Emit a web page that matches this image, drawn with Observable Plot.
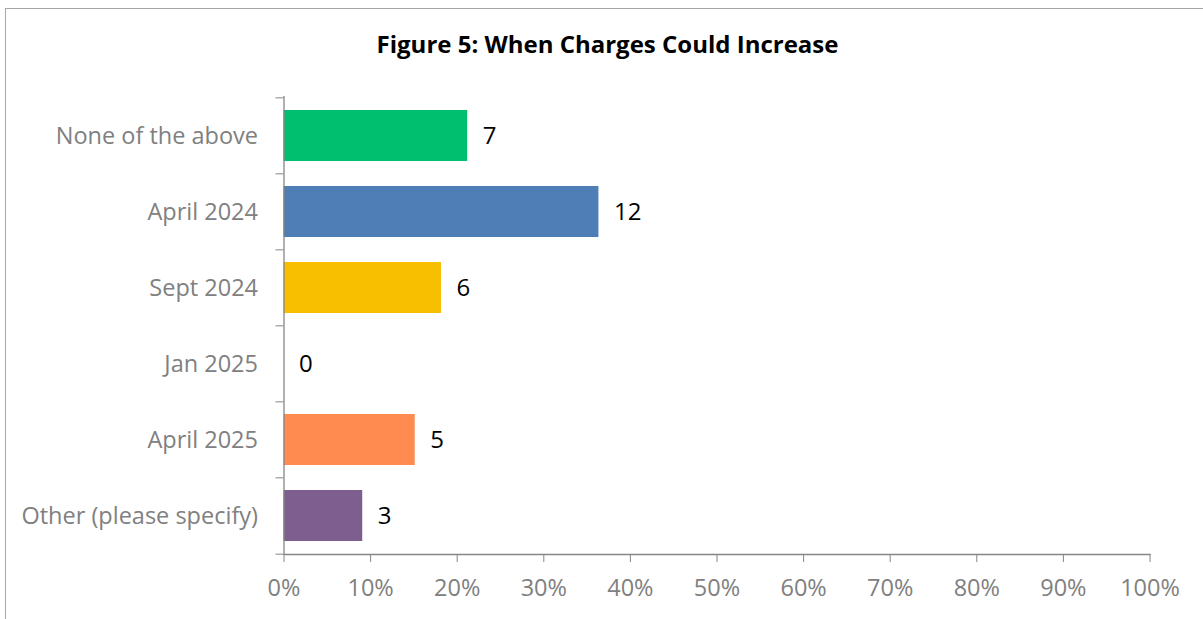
<!DOCTYPE html>
<html>
<head>
<meta charset="utf-8">
<script src="https://cdn.jsdelivr.net/npm/d3@7"></script>
<script src="https://cdn.jsdelivr.net/npm/@observablehq/plot@0.6"></script>
<style>
  html, body { margin: 0; padding: 0; background: #fff; }
  #wrap { position: relative; width: 1203px; height: 619px; overflow: hidden; font-family: "Open Sans", Lato, sans-serif; }
  #border { position: absolute; left: 5px; top: 8px; width: 1400px; height: 800px; border: 1px solid #a6a6a6; box-sizing: border-box; }
  #title { position: absolute; left: 0; top: 27px; width: 1215px; text-align: center; font-weight: bold; font-size: 24px; line-height: normal; color: #000; }
  #chart { position: absolute; left: 0; top: 0; }
</style>
</head>
<body>
<div id="wrap">
  <div id="border"></div>
  <div id="title">Figure 5: When Charges Could Increase</div>
  <div id="chart"></div>
</div>
<script>
const categories = ["None of the above", "April 2024", "Sept 2024", "Jan 2025", "April 2025", "Other (please specify)"];
const counts = [7, 12, 6, 0, 5, 3];
const colors = ["#00BF6F", "#4F7DB5", "#F8BE00", "#FFFFFF", "#FF8B50", "#7E5E8F"];
const xTicks = [0, 0.1, 0.2, 0.3, 0.4, 0.5, 0.6, 0.7, 0.8, 0.9, 1.0];

const total = d3.sum(counts);
const data = categories.map((c, i) => ({category: c, count: counts[i], pct: counts[i] / total, color: colors[i]}));

const W = 1203, H = 619, mT = 96, mB = 65, mL = 283.5, mR = 53.5;
const step = (H - mT - mB) / categories.length;
const gray = "#808080";

const plot = Plot.plot({
  width: W,
  height: H,
  marginTop: mT,
  marginBottom: mB,
  marginLeft: mL,
  marginRight: mR,
  style: {fontFamily: "'Open Sans', Lato, sans-serif", fontSize: "23.5px", color: gray, background: "transparent"},
  x: {domain: [0, 1], axis: null, label: null},
  y: {domain: categories, paddingInner: 0.33, paddingOuter: 0.165, axis: null, label: null},
  marks: [
    Plot.barX(data, {y: "category", x: "pct", fill: "color"}),
    Plot.ruleX([0], {stroke: "#868686", strokeWidth: 1.3}),
    Plot.frame({anchor: "bottom", stroke: "#868686", strokeWidth: 1.3}),
    // category labels
    Plot.axisY({tickSize: 0, tickPadding: 26, fontSize: 23.5, color: gray, label: null}),
    // boundary tick marks between categories
    Plot.axisY({tickSize: 8, text: null, dy: -step / 2, stroke: "#868686", label: null}),
    Plot.axisY([categories[categories.length - 1]], {tickSize: 8, text: null, dy: step / 2, stroke: "#868686", label: null}),
    Plot.axisX({ticks: xTicks, tickFormat: d3.format(".0%"), tickSize: 8, tickPadding: 17, fontSize: 23.5, color: gray, stroke: "#868686", label: null}),
    Plot.text(data, {y: "category", x: "pct", text: d => String(d.count), dx: 15, textAnchor: "start", fontSize: 24, fill: "#000"})
  ]
});
document.getElementById("chart").appendChild(plot);
</script>
</body>
</html>
